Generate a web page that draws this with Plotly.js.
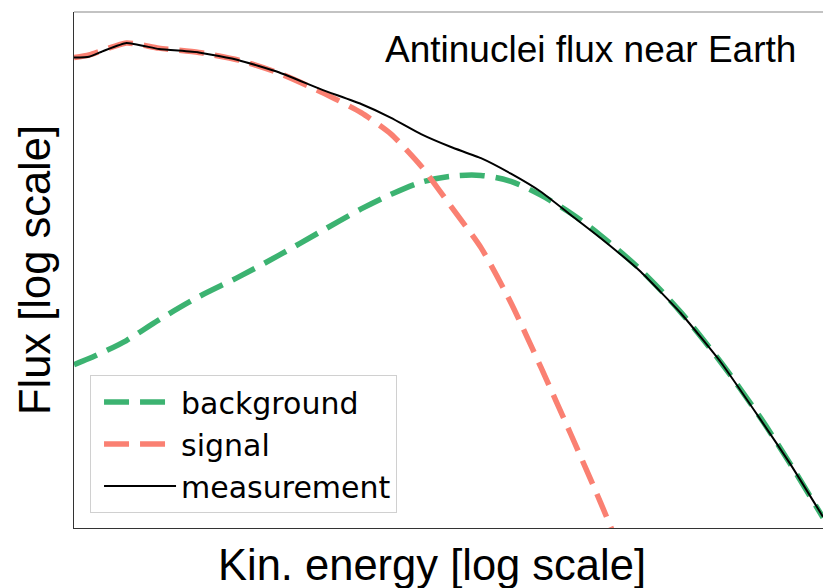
<!DOCTYPE html>
<html>
<head>
<meta charset="utf-8">
<script src="https://cdn.plot.ly/plotly-3.0.1.min.js"></script>
<style>
  html, body { margin: 0; padding: 0; background: #fff; }
  #chart { width: 823px; height: 588px; }
</style>
</head>
<body>
<div id="chart"></div>
<script>
// log10 of kinetic energy (arbitrary units)
const logEnergy = [-1.00, -0.94, -0.88, -0.79, -0.66, -0.50, -0.34, -0.18, -0.01, 0.15,
                   0.27, 0.39, 0.51, 0.63, 0.75, 0.87, 0.99, 1.11, 1.27, 1.43,
                   1.59, 1.75, 1.87, 2.00];

// log10 of flux (arbitrary units)
const backgroundFlux = [-6.10, -6.03, -5.95, -5.82, -5.58, -5.31, -5.08, -4.83, -4.55, -4.29,
                        -4.12, -3.98, -3.91, -3.90, -3.97, -4.13, -4.34, -4.60, -5.00, -5.49,
                        -6.07, -6.72, -7.26, -7.88];
const signalFlux = [-2.53, -2.50, -2.44, -2.36, -2.42, -2.47, -2.56, -2.71, -2.93, -3.17,
                    -3.42, -3.79, -4.26, -4.74, -5.38, -6.13, -6.91, -7.71, -8.84];
const measuredFlux = [-2.53, -2.52, -2.45, -2.36, -2.43, -2.47, -2.56, -2.70, -2.90, -3.07,
                      -3.23, -3.42, -3.57, -3.70, -3.88, -4.09, -4.36, -4.63, -5.02, -5.50,
                      -6.07, -6.74, -7.26, -7.87];

const seriesNames = ['background', 'signal', 'measurement'];
const titleText = 'Antinuclei flux near Earth';
const xTitle = 'Kin. energy [log scale]';
const yTitle = 'Flux [log scale]';

const GREEN = '#3cb371';
const SALMON = '#fa8072';
const DASH = '25px,11px';
const SANS = 'Liberation Sans, Arial, sans-serif';

const traces = [
  {
    x: logEnergy, y: backgroundFlux, name: seriesNames[0], mode: 'lines',
    line: { color: GREEN, width: 5.5, dash: DASH, shape: 'spline', smoothing: 0.9 }
  },
  {
    x: logEnergy.slice(0, signalFlux.length), y: signalFlux, name: seriesNames[1], mode: 'lines',
    line: { color: SALMON, width: 5.5, dash: DASH, shape: 'spline', smoothing: 0.6 }
  },
  {
    x: logEnergy, y: measuredFlux, name: seriesNames[2], mode: 'lines',
    line: { color: '#000', width: 2, shape: 'spline', smoothing: 0.4 }
  }
];

const layout = {
  width: 823, height: 588,
  margin: { l: 74, r: 0, t: 12, b: 60 },
  paper_bgcolor: '#fff', plot_bgcolor: '#fff',
  font: { family: SANS, color: '#000' },
  showlegend: true,
  legend: {
    x: 0.0214, y: 0.029, xanchor: 'left', yanchor: 'bottom',
    bgcolor: '#fff', bordercolor: '#d0d0d0', borderwidth: 1,
    font: { family: 'DejaVu Sans', size: 30, color: '#000' },
    itemwidth: 72, indentation: 8, tracegroupgap: 0
  },
  xaxis: {
    range: [-1, 2], showgrid: false, zeroline: false, showticklabels: false, ticks: '',
    showline: true, linecolor: '#333', linewidth: 1, mirror: false,
    automargin: false
  },
  yaxis: {
    range: [-8, -2], showgrid: false, zeroline: false, showticklabels: false, ticks: '',
    showline: true, linecolor: '#333', linewidth: 1, mirror: false,
    title: { text: yTitle, font: { size: 43.5, family: SANS }, standoff: 8 },
    automargin: false
  },
  shapes: [
    // top frame edge
    { type: 'line', xref: 'paper', yref: 'paper', x0: 0, x1: 1, y0: 1, y1: 1,
      line: { color: '#888', width: 1.2 } }
  ],
  annotations: [
    { text: titleText, xref: 'paper', yref: 'paper', x: 0.9666, y: 0.928,
      xanchor: 'right', yanchor: 'middle', showarrow: false,
      font: { size: 37, family: SANS, color: '#000' } },
    // x-axis label
    { text: xTitle, xref: 'paper', yref: 'paper', x: 0.478, y: -0.0717,
      xanchor: 'center', yanchor: 'middle', showarrow: false,
      font: { size: 43.5, family: SANS, color: '#000' } }
  ]
};

Plotly.newPlot('chart', traces, layout, { displayModeBar: false, staticPlot: true });
</script>
</body>
</html>
